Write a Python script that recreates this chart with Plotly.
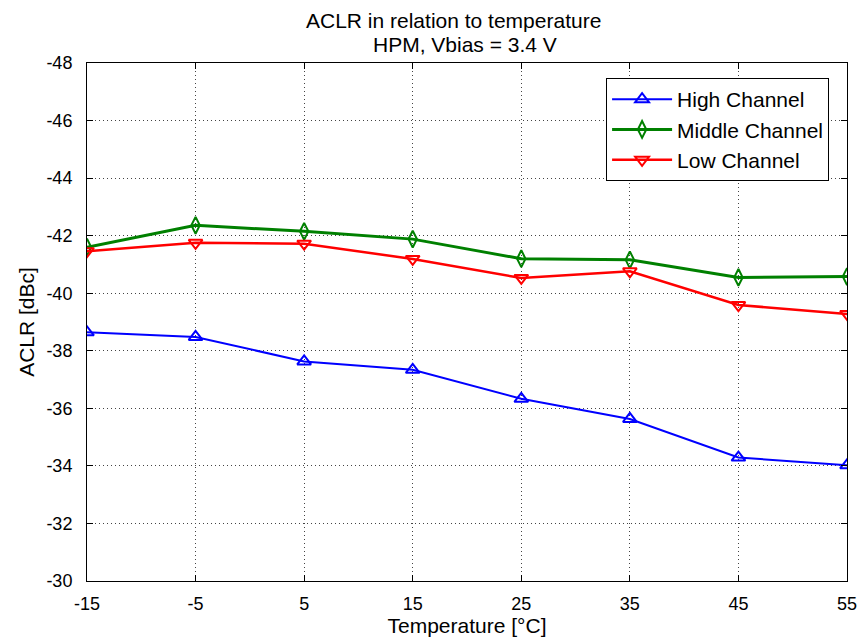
import plotly.graph_objects as go

temps = [-15, -5, 5, 15, 25, 35, 45, 55]
high = [-38.64, -38.48, -37.63, -37.34, -36.33, -35.63, -34.29, -34.02]
middle = [-41.6, -42.36, -42.15, -41.88, -41.2, -41.16, -40.55, -40.58]
low = [-41.46, -41.75, -41.72, -41.19, -40.53, -40.76, -39.59, -39.28]
series_names = ["High Channel", "Middle Channel", "Low Channel"]
x_ticks = [-15, -5, 5, 15, 25, 35, 45, 55]
x_ticktext = ["-15", "-5", "5", "15", "25", "35", "45", "55"]
y_ticks = [-48, -46, -44, -42, -40, -38, -36, -34, -32, -30]
y_ticktext = ["-48", "-46", "-44", "-42", "-40", "-38", "-36", "-34", "-32", "-30"]
title_lines = ["ACLR in relation to temperature", "HPM, Vbias = 3.4 V"]

FONT = "Liberation Sans, Arial, sans-serif"

fig = go.Figure()
fig.add_trace(go.Scatter(x=temps, y=high, name=series_names[0], mode="lines+markers",
                         line=dict(color="#0000ff", width=2),
                         marker=dict(symbol="triangle-up-open", size=12, color="#0000ff",
                                     line=dict(width=2, color="#0000ff"))))
fig.add_trace(go.Scatter(x=temps, y=middle, name=series_names[1], mode="lines+markers",
                         line=dict(color="#008000", width=3),
                         marker=dict(symbol="diamond-tall-open", size=12, color="#008000",
                                     line=dict(width=2, color="#008000"))))
fig.add_trace(go.Scatter(x=temps, y=low, name=series_names[2], mode="lines+markers",
                         line=dict(color="#ff0000", width=2.5),
                         marker=dict(symbol="triangle-down-open", size=12, color="#ff0000",
                                     line=dict(width=2, color="#ff0000"))))

axis_common = dict(showline=True, linecolor="black", linewidth=1, mirror="ticks",
                   ticks="inside", ticklen=6, tickcolor="black", automargin=False,
                   showgrid=True, gridcolor="#444444", griddash="1px,3px", gridwidth=1,
                   zeroline=False, tickfont=dict(family=FONT, size=18, color="black"))

fig.update_layout(
    width=858, height=641,
    margin=dict(l=87, r=11, t=63, b=60),
    paper_bgcolor="white", plot_bgcolor="white",
    xaxis=dict(range=[-15, 55], tickvals=x_ticks, ticktext=x_ticktext, ticklabelstandoff=6,
               title=dict(text="Temperature [°C]", standoff=2,
                          font=dict(family=FONT, size=21, color="black")),
               **axis_common),
    yaxis=dict(range=[-30, -48], tickvals=y_ticks, ticktext=y_ticktext, ticklabelstandoff=10,
               title=dict(text="ACLR [dBc]", standoff=6,
                          font=dict(family=FONT, size=21, color="black")),
               **axis_common),
    legend=dict(x=0.683, y=0.971, xanchor="left", yanchor="top",
                bgcolor="white", bordercolor="black", borderwidth=1,
                font=dict(family=FONT, size=21, color="black"),
                tracegroupgap=0, itemwidth=60),
    showlegend=True,
    annotations=[
        dict(text=title_lines[0], xref="paper", yref="paper", x=0.4816, y=1,
             xanchor="center", yanchor="middle", yshift=43, showarrow=False,
             font=dict(family=FONT, size=21, color="black")),
        dict(text=title_lines[1], xref="paper", yref="paper", x=0.497, y=1,
             xanchor="center", yanchor="middle", yshift=19, showarrow=False,
             font=dict(family=FONT, size=21, color="black")),
    ],
)

fig.write_html("out.html")
